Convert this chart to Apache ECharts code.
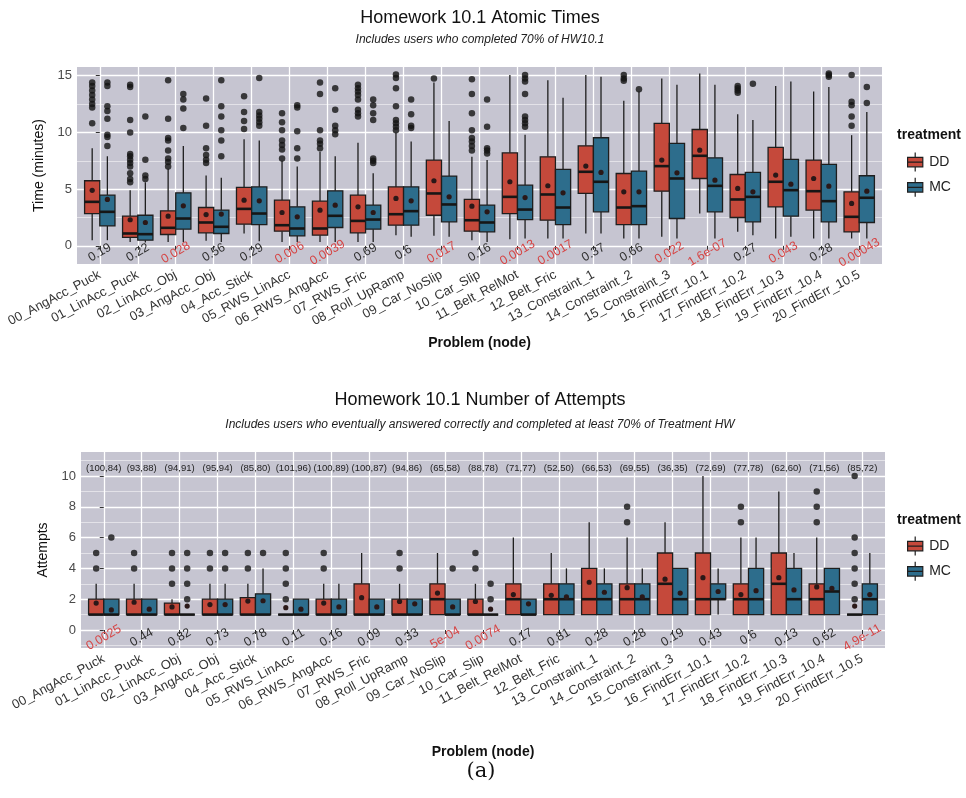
<!DOCTYPE html>
<html>
<head>
<meta charset="utf-8">
<script src="https://cdn.jsdelivr.net/npm/echarts@6/dist/echarts.min.js"></script>
<style>
  html, body { margin: 0; padding: 0; background: #ffffff; }
  #chart { width: 966px; height: 798px; }
</style>
</head>
<body>
<div id="chart"></div>
<script>
// ---- problems (x categories) ----
const problems = [
  '00_AngAcc_Puck', '01_LinAcc_Puck', '02_LinAcc_Obj', '03_AngAcc_Obj', '04_Acc_Stick',
  '05_RWS_LinAcc', '06_RWS_AngAcc', '07_RWS_Fric', '08_Roll_UpRamp', '09_Car_NoSlip',
  '10_Car_Slip', '11_Belt_RelMot', '12_Belt_Fric', '13_Constraint_1', '14_Constraint_2',
  '15_Constraint_3', '16_FindErr_10.1', '17_FindErr_10.2', '18_FindErr_10.3', '19_FindErr_10.4',
  '20_FindErr_10.5'
];
const groups = ['DD', 'MC'];

// ---- atomic times (minutes): [lower whisker, Q1, median, Q3, upper whisker] ----
const timeDD = [
  [0.5, 2.85, 3.88, 5.74, 8.6], [0.35, 0.74, 1.09, 2.62, 4.9], [0.35, 1.0, 1.59, 3.09, 6.8],
  [0.45, 1.15, 2.06, 3.38, 6.2], [1.09, 1.91, 3.26, 5.15, 9.4], [0.35, 1.29, 1.82, 4.03, 7.5],
  [0.35, 0.94, 1.53, 3.94, 8.3], [0.35, 1.15, 2.2, 4.47, 9.1], [0.94, 1.82, 2.79, 5.2, 10.0],
  [0.88, 2.7, 4.62, 7.56, 14.4], [0.5, 1.29, 2.26, 4.09, 7.85], [0.59, 2.85, 4.32, 8.2, 15.06],
  [0.65, 2.26, 4.53, 7.85, 14.6], [1.09, 4.62, 6.53, 8.82, 15.06], [0.65, 1.88, 3.38, 6.38, 12.8],
  [0.8, 4.82, 7.03, 10.8, 14.76], [2.85, 5.94, 7.94, 10.26, 15.2], [1.24, 2.5, 4.09, 6.29, 11.6],
  [0.65, 3.44, 5.65, 8.68, 14.1], [0.65, 3.15, 4.82, 7.56, 13.6], [0.65, 1.24, 2.56, 4.76, 9.76]
];
const timeMC = [
  [0.5, 1.76, 3.0, 4.47, 7.9], [0.3, 0.5, 1.03, 2.7, 5.6], [0.35, 1.47, 2.41, 4.68, 8.8],
  [0.35, 1.09, 1.68, 3.15, 6.0], [0.4, 1.88, 2.85, 5.2, 9.3], [0.35, 0.88, 1.53, 3.44, 7.0],
  [0.35, 1.62, 2.65, 4.85, 7.9], [0.35, 1.47, 2.32, 3.59, 6.4], [0.8, 1.82, 3.06, 5.2, 9.2],
  [0.8, 2.12, 3.65, 6.15, 11.0], [0.35, 1.24, 2.06, 3.59, 7.56], [0.65, 2.32, 3.2, 5.35, 9.8],
  [0.65, 1.88, 3.38, 6.74, 13.06], [1.09, 3.0, 5.65, 9.53, 14.9], [0.65, 1.88, 3.5, 6.59, 13.6],
  [0.65, 2.41, 5.94, 9.03, 14.2], [0.65, 3.0, 5.29, 7.76, 14.2], [0.94, 2.12, 4.32, 6.47, 11.1],
  [0.8, 2.62, 4.91, 7.62, 14.5], [0.65, 2.12, 3.94, 7.18, 14.0], [0.65, 2.06, 4.24, 6.18, 11.8]
];
const timeMeanDD = [4.9, 2.3, 2.62, 2.76, 4.03, 2.94, 3.15, 3.44, 4.18, 5.74, 3.5, 5.65, 5.3, 7.03, 4.76, 7.56, 8.44, 5.06, 6.24, 5.94, 3.74];
const timeMeanMC = [4.09, 2.06, 3.53, 2.8, 3.97, 2.56, 3.59, 2.94, 3.97, 4.32, 3.0, 4.26, 4.68, 6.47, 4.76, 6.44, 5.79, 4.76, 5.44, 5.26, 4.82];
const timeOutDD = [
  [14.4, 14.1, 13.7, 13.3, 12.9, 12.5, 12.2, 10.8],
  [14.2, 14.0, 11.1, 10.0, 8.1, 7.9, 7.6, 7.3, 7.0, 6.4, 5.9, 5.6],
  [14.6, 11.2, 9.5, 9.3, 8.4, 7.7, 7.4, 7.0],
  [13.0, 10.6, 8.6, 8.0, 7.6, 7.3],
  [13.2, 11.8, 11.0, 10.3],
  [11.7, 10.9, 10.2, 9.3, 8.9, 8.5, 7.7],
  [14.4, 13.4, 10.2, 9.3, 9.0, 8.6],
  [14.2, 13.9, 13.6, 13.3, 12.9, 12.0, 11.7, 11.4],
  [15.1, 14.8, 13.9, 12.3, 11.1, 10.8, 10.5, 10.2],
  [14.75],
  [14.7, 13.4, 11.7, 10.2, 9.5, 9.2, 8.8, 8.4],
  [], [], [],
  [15.06, 14.76, 14.56],
  [], [],
  [14.1, 13.9, 13.7, 13.5],
  [], [],
  [15.06, 12.7, 12.4, 11.4, 10.6]
];
const timeOutMC = [
  [14.4, 14.1, 12.3, 11.9, 11.2, 9.8, 9.6, 8.8],
  [11.4, 7.6, 6.2, 5.9],
  [13.4, 12.9, 12.1, 10.4],
  [14.6, 12.3, 11.4, 10.2, 9.3, 7.9],
  [14.8, 11.8, 11.5, 11.2, 10.9, 10.6],
  [12.4, 12.2, 10.1, 8.6, 7.7],
  [13.9, 12.0, 10.6, 10.2, 9.85],
  [12.9, 12.4, 11.7, 11.1, 7.7, 7.5, 7.3],
  [12.9, 11.6, 10.6, 10.4],
  [],
  [12.9, 10.5, 8.6, 8.4, 8.15],
  [15.06, 14.76, 14.5, 13.4, 11.4, 11.1, 10.8, 10.5],
  [], [],
  [13.8],
  [], [],
  [14.3],
  [],
  [15.2, 15.06, 14.9],
  [14.0, 12.6]
];
const timeP = ['0.19', '0.22', '0.028', '0.56', '0.29', '0.006', '0.0039', '0.69', '0.6', '0.017', '0.16',
  '0.0013', '0.0017', '0.37', '0.66', '0.022', '1.6e-07', '0.27', '0.043', '0.28', '0.00043'];

// ---- attempts: [lower whisker, Q1, median, Q3, upper whisker] ----
const attDD = [
  [1, 1, 1, 2, 3], [1, 1, 1, 2, 3], [1, 1, 1, 1.75, 2], [1, 1, 1, 2, 3], [1, 1, 1, 2.1, 3],
  [1, 1, 1, 1, 1], [1, 1, 1, 2, 3], [1, 1, 1, 3, 5], [1, 1, 1, 2, 3], [1, 1, 2, 3, 5],
  [1, 1, 1, 2, 3], [1, 1, 2, 3, 6], [1, 1, 2, 3, 5], [1, 1, 2, 4, 7], [1, 1, 2, 3, 6],
  [1, 1, 3, 5, 7], [1, 1, 2, 5, 10], [1, 1, 2, 3, 6], [1, 1, 3, 5, 9], [1, 1, 2, 3, 6],
  [1, 1, 1, 1, 1]
];
const attMC = [
  [1, 1, 1, 2, 2], [1, 1, 1, 2, 2], [1, 1, 1, 1, 1], [1, 1, 1, 2, 3], [1, 1, 1, 2.35, 4],
  [1, 1, 1, 2, 2], [1, 1, 1, 2, 3], [1, 1, 1, 2, 2], [1, 1, 1, 2, 2], [1, 1, 1, 2, 2],
  [1, 1, 1, 1, 1], [1, 1, 1, 2, 2], [1, 1, 2, 3, 4], [1, 1, 2, 3, 4], [1, 1, 2, 3, 4],
  [1, 1, 2, 4, 4], [1, 2, 2, 3, 4], [1, 1, 2, 4, 6], [1, 1, 2, 4, 5], [1, 1, 2.5, 4, 4],
  [1, 1, 2, 3, 5]
];
const attMeanDD = [1.75, 1.8, 1.5, 1.65, 1.88, 1.45, 1.75, 2.1, 1.85, 2.4, 1.85, 2.3, 2.25, 3.1, 2.75, 3.3, 3.4, 2.3, 3.4, 2.8, 1.55];
const attMeanMC = [1.3, 1.35, 1.55, 1.65, 1.9, 1.35, 1.5, 1.5, 1.7, 1.5, 1.35, 1.7, 2.15, 2.45, 2.15, 2.4, 2.5, 2.55, 2.6, 2.7, 2.3];
const attOutDD = [
  [4, 5], [4, 5], [3, 4, 5], [4, 5], [4, 5], [2, 3, 4, 5], [4, 5], [], [4, 5], [],
  [4, 5], [], [], [], [7, 8], [], [], [7, 8], [], [7, 8, 9], [2, 3, 4, 5, 6, 10]
];
const attOutMC = [
  [6], [], [2, 3, 4, 5], [4, 5], [5], [], [], [], [], [4],
  [2, 3], [], [], [], [], [], [], [], [], [], []
];
const attP = ['0.0025', '0.44', '0.82', '0.73', '0.78', '0.11', '0.16', '0.09', '0.33', '5e-04', '0.0074',
  '0.17', '0.81', '0.28', '0.28', '0.19', '0.43', '0.6', '0.13', '0.62', '4.9e-11'];
const attCountDD = [100, 93, 94, 95, 85, 101, 100, 100, 94, 65, 88, 71, 52, 66, 69, 36, 72, 77, 62, 71, 85];
const attCountMC = [84, 88, 91, 94, 80, 96, 89, 87, 86, 58, 78, 77, 50, 53, 55, 35, 69, 78, 60, 56, 72];

// ---- styling ----
const FONT = '"Liberation Sans", Arial, sans-serif';
const COLOR = { DD: '#c5493b', MC: '#2d6d8c' };
const PANEL = '#c6c5d1';
const INK = '#1e1e1e';
const SIG = '#d64545';
const catIdx = problems.map((_, i) => i);

function boxRenderer(shift) {
  return function (params, api) {
    const x = api.value(0) + shift;
    const L = api.coord([x - 0.2, 0])[0];
    const R = api.coord([x + 0.2, 0])[0];
    const C = api.coord([x, 0])[0];
    const py = k => api.coord([x, api.value(k)])[1];
    const lo = py(1), q1 = py(2), md = py(3), q3 = py(4), hi = py(5), mn = py(6);
    const fill = api.visual('color');
    const edge = { stroke: INK, lineWidth: 1.3 };
    return {
      type: 'group',
      children: [
        { type: 'line', shape: { x1: C, y1: hi, x2: C, y2: q3 }, style: edge },
        { type: 'line', shape: { x1: C, y1: q1, x2: C, y2: lo }, style: edge },
        { type: 'rect', shape: { x: L, y: q3, width: R - L, height: Math.max(q1 - q3, 0) },
          style: { fill: fill, stroke: INK, lineWidth: 1.3 } },
        { type: 'line', shape: { x1: L, y1: md, x2: R, y2: md }, style: { stroke: '#161616', lineWidth: 2.6 } },
        { type: 'circle', shape: { cx: C, cy: mn, r: 2.6 }, style: { fill: '#2a1818' } }
      ]
    };
  };
}

function boxSeries(name, stats, means, xi, yi, shift) {
  return {
    type: 'custom', name: name, xAxisIndex: xi, yAxisIndex: yi,
    itemStyle: { color: COLOR[name] },
    renderItem: boxRenderer(shift),
    encode: { x: 0, y: [1, 2, 3, 4, 5] },
    data: stats.map((s, i) => [i, s[0], s[1], s[2], s[3], s[4], means[i]]),
    z: 3
  };
}

function outlierSeries(name, outs, xi, yi, shift) {
  const pts = [];
  outs.forEach((arr, i) => arr.forEach(v => pts.push([i + shift, v])));
  return {
    type: 'scatter', name: name + ' outliers', xAxisIndex: xi, yAxisIndex: yi,
    symbol: 'circle', symbolSize: 6.5,
    itemStyle: { color: '#141414' },
    data: pts, z: 4, silent: true
  };
}

// text placed at (category, value), optionally rotated
function labelSeries(rows, yVal, xi, yi, rotateDeg, size) {
  return {
    type: 'custom', xAxisIndex: xi, yAxisIndex: yi, silent: true,
    renderItem: (params, api) => {
      const p = api.coord([api.value(0), api.value(1)]);
      const d = rows[params.dataIndex];
      return {
        type: 'text', x: p[0], y: p[1],
        rotation: rotateDeg * Math.PI / 180,
        style: { text: d.text, fill: d.color, font: size + 'px ' + FONT, align: 'center', verticalAlign: 'middle' }
      };
    },
    encode: { x: 0, y: 1 },
    data: rows.map((r, i) => [i, yVal]),
    z: 5
  };
}

const pRows = arr => arr.map(s => ({ text: s, color: parseFloat(s) < 0.05 ? SIG : '#2e2e2e' }));
const countRows = attCountDD.map((a, i) => ({ text: '(' + a + ',' + attCountMC[i] + ')', color: '#222' }));

function xAxisCfg(gridIndex, nameGap) {
  return {
    type: 'value', gridIndex: gridIndex, min: -0.6, max: 20.6,
    name: 'Problem (node)', nameLocation: 'middle', nameGap: nameGap,
    nameTextStyle: { fontFamily: FONT, fontSize: 14, fontWeight: 'bold', color: '#111' },
    axisLine: { show: false },
    axisTick: { show: true, customValues: catIdx, length: 4, lineStyle: { color: '#333', width: 1 } },
    axisLabel: {
      customValues: catIdx, rotate: 28, margin: 10,
      formatter: v => problems[Math.round(v)],
      fontFamily: FONT, fontSize: 13, color: '#333'
    },
    splitLine: { show: true, lineStyle: { color: '#ffffff', width: 1.3 } }
  };
}

function yAxisCfg(gridIndex, min, max, ticks, name) {
  return {
    type: 'value', gridIndex: gridIndex, min: min, max: max,
    name: name, nameLocation: 'middle', nameGap: 28,
    nameTextStyle: { fontFamily: FONT, fontSize: 14, color: '#111' },
    axisLine: { show: false },
    axisTick: { show: true, customValues: ticks, length: 4, lineStyle: { color: '#333', width: 1 } },
    axisLabel: { customValues: ticks, fontFamily: FONT, fontSize: 13, color: '#4a4a4a', margin: 5 },
    splitLine: { show: true, lineStyle: { color: '#ffffff', width: 1.3 } }
  };
}

function yMinorCfg(gridIndex, min, max, ticks) {
  return {
    type: 'value', gridIndex: gridIndex, min: min, max: max, position: 'left',
    axisLine: { show: false },
    axisTick: { show: false, customValues: ticks },
    axisLabel: { show: false },
    splitLine: { show: true, lineStyle: { color: '#ffffff', width: 0.6, opacity: 0.85 } }
  };
}

const legendIcon = 'path://M2,5H18V15H2Z M2,10H18 M10,0V5 M10,15V20';
function legendCfg(top) {
  return {
    orient: 'vertical', left: 902, top: top, itemGap: 5,
    itemWidth: 18, itemHeight: 19, icon: legendIcon,
    itemStyle: { borderColor: INK, borderWidth: 1.2 },
    data: groups,
    textStyle: { fontFamily: FONT, fontSize: 14, color: '#222' },
    selectedMode: false
  };
}

function txt(x, y, text, font, fill) {
  return { type: 'text', x: x, y: y, silent: true,
    style: { text: text, font: font, fill: fill || '#111', align: 'center', verticalAlign: 'middle' } };
}

const option = {
  backgroundColor: '#ffffff',
  animation: false,
  graphic: [
    txt(480, 18, 'Homework 10.1 Atomic Times', '18px ' + FONT),
    txt(480, 40, 'Includes users who completed 70% of HW10.1', 'italic 12px ' + FONT, '#222'),
    txt(480, 400, 'Homework 10.1 Number of Attempts', '18px ' + FONT),
    txt(480, 425, 'Includes users who eventually answered correctly and completed at least 70% of Treatment HW', 'italic 12px ' + FONT, '#222'),
    txt(929, 135, 'treatment', 'bold 14px ' + FONT),
    txt(929, 520, 'treatment', 'bold 14px ' + FONT),
    txt(481, 772, '(a)', '21px "DejaVu Serif", "Liberation Serif", serif')
  ],
  legend: [legendCfg(147), legendCfg(531)],
  grid: [
    { left: 77, top: 67, width: 805, height: 197, show: true, backgroundColor: PANEL, borderWidth: 0 },
    { left: 81, top: 452, width: 804, height: 196, show: true, backgroundColor: PANEL, borderWidth: 0 }
  ],
  xAxis: [xAxisCfg(0, 72), xAxisCfg(1, 97)],
  yAxis: [
    yAxisCfg(0, -1.6, 15.77, [0, 5, 10, 15], 'Time (minutes)'),
    yMinorCfg(0, -1.6, 15.77, [2.5, 7.5, 12.5]),
    yAxisCfg(1, -1.17, 11.56, [0, 2, 4, 6, 8, 10], 'Attempts'),
    yMinorCfg(1, -1.17, 11.56, [-1, 1, 3, 5, 7, 9, 11])
  ],
  series: [
    boxSeries('DD', timeDD, timeMeanDD, 0, 0, -0.2),
    boxSeries('MC', timeMC, timeMeanMC, 0, 0, 0.2),
    outlierSeries('DD', timeOutDD, 0, 0, -0.2),
    outlierSeries('MC', timeOutMC, 0, 0, 0.2),
    labelSeries(pRows(timeP), -0.6, 0, 0, 30, 12.5),

    boxSeries('DD', attDD, attMeanDD, 1, 2, -0.2),
    boxSeries('MC', attMC, attMeanMC, 1, 2, 0.2),
    outlierSeries('DD', attOutDD, 1, 2, -0.2),
    outlierSeries('MC', attOutMC, 1, 2, 0.2),
    labelSeries(pRows(attP), -0.5, 1, 2, 30, 12.5),
    labelSeries(countRows, 10.5, 1, 2, 0, 9.5)
  ]
};

const chart = echarts.init(document.getElementById('chart'), null, { renderer: 'canvas' });
chart.setOption(option);
</script>
</body>
</html>
